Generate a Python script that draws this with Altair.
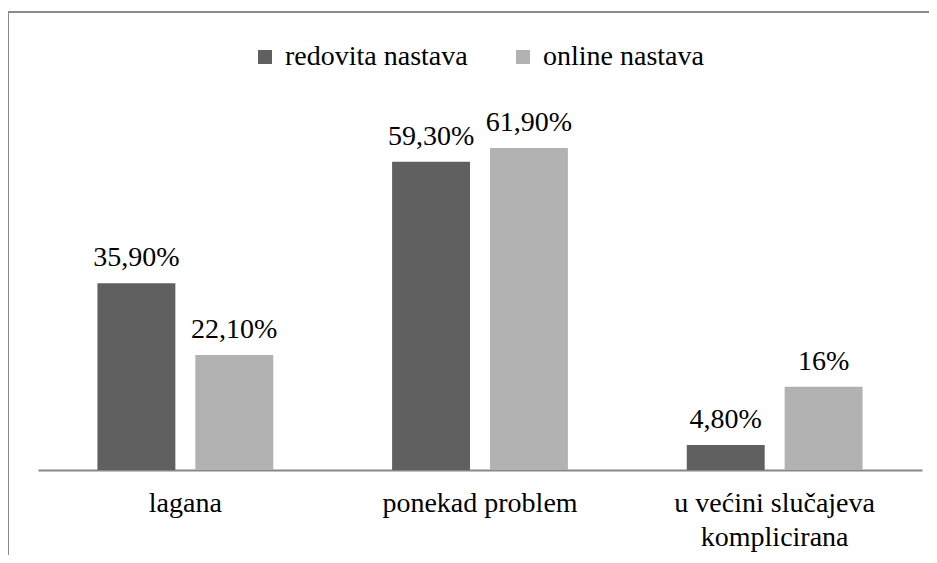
import altair as alt
import pandas as pd

categories = ["lagana", "ponekad problem", "u većini slučajeva komplicirana"]
series = ["redovita nastava", "online nastava"]
redovita = [35.9, 59.3, 4.8]
online = [22.1, 61.9, 16.0]
redovita_labels = ["35,90%", "59,30%", "4,80%"]
online_labels = ["22,10%", "61,90%", "16%"]
colors = ["#606060", "#b2b2b2"]

rows = []
for c, v, l in zip(categories, redovita, redovita_labels):
    rows.append({"cat": c, "series": series[0], "value": v, "label": l})
for c, v, l in zip(categories, online, online_labels):
    rows.append({"cat": c, "series": series[1], "value": v, "label": l})
df = pd.DataFrame(rows)

FONT = "Liberation Serif"
FS = 28

x = alt.X(
    "cat:N",
    sort=categories,
    scale=alt.Scale(paddingInner=0.4034, paddingOuter=0.2017),
    axis=alt.Axis(
        title=None,
        labelAngle=0,
        ticks=False,
        domainColor="#868686",
        domainWidth=2,
        labelFont=FONT,
        labelFontSize=FS,
        labelColor="#000000",
        labelPadding=19,
        labelLineHeight=34,
        labelBaseline="top",
        labelLimit=0,
        labelExpr="datum.label == 'u većini slučajeva komplicirana' ? ['u većini slučajeva', 'komplicirana'] : datum.label",
    ),
)
xoff = alt.XOffset(
    "series:N", sort=series, scale=alt.Scale(paddingInner=0.204, paddingOuter=0)
)
y = alt.Y("value:Q", scale=alt.Scale(domain=[0, 70]), axis=None)

bars = alt.Chart(df).mark_bar().encode(
    x=x,
    xOffset=xoff,
    y=y,
    color=alt.Color(
        "series:N",
        sort=series,
        scale=alt.Scale(domain=series, range=colors),
        legend=alt.Legend(
            title=None,
            orient="none",
            legendX=213,
            legendY=-63,
            direction="horizontal",
            symbolType="square",
            symbolSize=196,
            symbolStrokeWidth=0,
            labelFont=FONT,
            labelFontSize=FS,
            labelColor="#000000",
            labelOffset=6,
            labelLimit=0,
            columnPadding=41,
        ),
    ),
)

text = alt.Chart(df).mark_text(
    font=FONT, fontSize=FS, baseline="alphabetic", dy=-17, color="#000000"
).encode(x=x, xOffset=xoff, y=y, text="label:N")

border_left = alt.Chart(df).mark_rule(color="#8a8a8a", strokeWidth=2, clip=False).encode(
    x=alt.value(-30), y=alt.value(-94), y2=alt.value(460)
)
border_top = alt.Chart(df).mark_rule(color="#8a8a8a", strokeWidth=2, clip=False).encode(
    x=alt.value(-30), x2=alt.value(900), y=alt.value(-94)
)

chart = (
    alt.layer(border_left, border_top, bars, text)
    .properties(
        width=884,
        height=364,
        padding={"left": 30, "top": 98, "right": 7, "bottom": 85},
        autosize=alt.AutoSizeParams(type="none"),
    )
    .configure_view(stroke=None)
)

chart.save("out.html", embed_options={"renderer": "svg", "actions": False})
